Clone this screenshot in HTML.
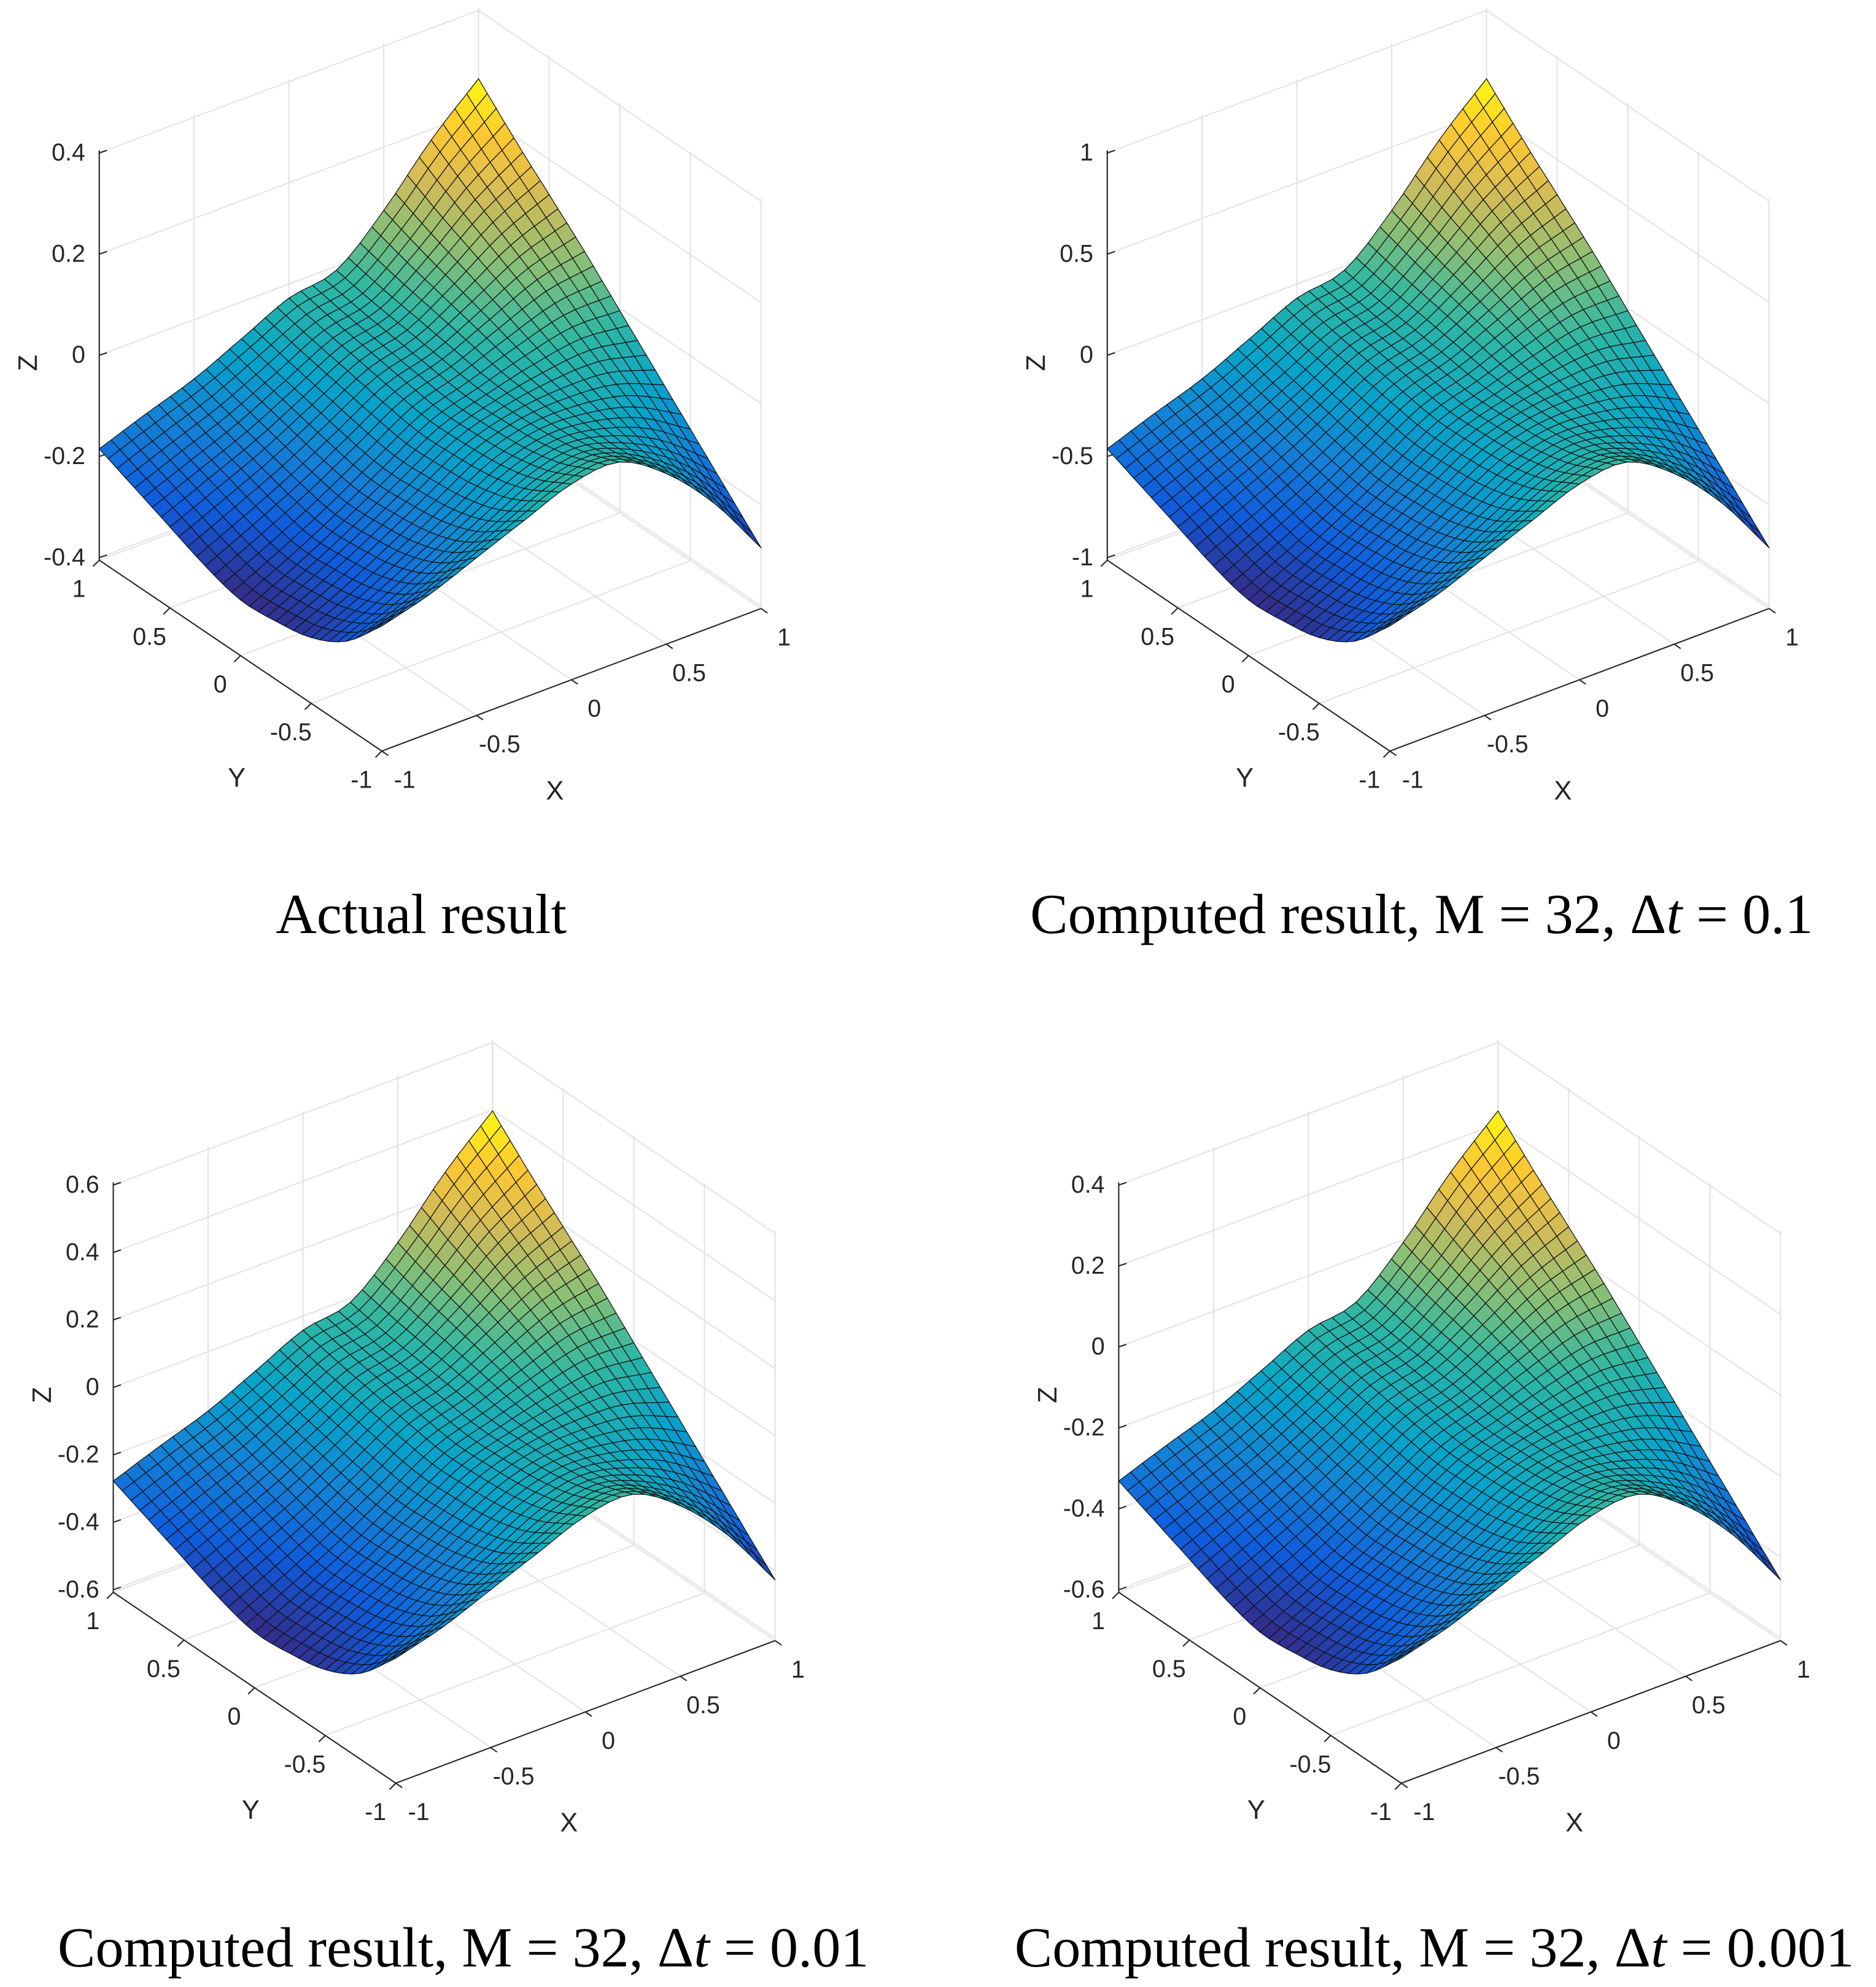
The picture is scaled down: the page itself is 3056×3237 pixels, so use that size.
<!DOCTYPE html>
<html><head><meta charset="utf-8">
<style>
html,body{margin:0;padding:0;background:#fff;}
svg{display:block;}
.tk{font-family:"Liberation Sans Narrow","Liberation Sans",sans-serif;font-size:19px;fill:#262626;}
.ax{font-family:"Liberation Sans Narrow","Liberation Sans",sans-serif;font-size:21px;fill:#262626;}
.cap{font-family:"Liberation Serif",serif;font-size:44.5px;fill:#000;}
</style></head>
<body>
<svg id="fig" width="3056" height="3237" viewBox="0 0 1474 1561" xmlns="http://www.w3.org/2000/svg">
<text class="cap" x="331" y="733" text-anchor="middle">Actual result</text>
<text class="cap" x="1117" y="733" text-anchor="middle">Computed result, M = 32, Δ<tspan font-style="italic">t</tspan> = 0.1</text>
<text class="cap" x="364" y="1545" text-anchor="middle">Computed result, M = 32, Δ<tspan font-style="italic">t</tspan> = 0.01</text>
<text class="cap" x="1127" y="1545" text-anchor="middle">Computed result, M = 32, Δ<tspan font-style="italic">t</tspan> = 0.001</text>
</svg>
<script>
// Edge profiles of the surface (z values at nodes -1,-0.75,...,1)
const edgeXm = [-0.153,-0.23,-0.27,-0.285,-0.29,-0.27,-0.24,-0.21,-0.18];   // x=-1, along y
const edgeXp = [-0.28,-0.21,-0.14,-0.07,0.0,0.07,0.135,0.2,0.27];             // x=1, along y
const edgeYm = [-0.153,-0.126,-0.088,-0.05,-0.013,-0.005,-0.063,-0.156,-0.28]; // y=-1, along x
const edgeYp = [-0.18,-0.145,-0.112,-0.068,-0.023,-0.003,0.08,0.184,0.27];    // y=1, along x
const xyTicks = [-1,-0.5,0,0.5,1];
const xyTickLabels = ["-1","-0.5","0","0.5","1"];
const zTicks1 = ["-0.4","-0.2","0","0.2","0.4"];
const zTicks2 = ["-1","-0.5","0","0.5","1"];
const zTicks3 = ["-0.6","-0.4","-0.2","0","0.2","0.4","0.6"];
const zTicks4 = ["-0.6","-0.4","-0.2","0","0.2","0.4"];
const N = 32;

const NS="http://www.w3.org/2000/svg";
const svg=document.getElementById('fig');
function mk(tag,attrs,parent){const e=document.createElementNS(NS,tag);for(const k in attrs)e.setAttribute(k,attrs[k]);(parent||svg).appendChild(e);return e;}
function interp(vals,t){
  const n=vals.length-1;
  let s=(t+1)/2*n; let i=Math.min(n-1,Math.max(0,Math.floor(s))); let f=s-i;
  const p1=vals[i],p2=vals[i+1];
  const p0=i>0?vals[i-1]:2*p1-p2, p3=i+2<=n?vals[i+2]:2*p2-p1;
  return 0.5*((2*p1)+(-p0+p2)*f+(2*p0-5*p1+4*p2-p3)*f*f+(-p0+3*p1-3*p2+p3)*f*f*f);
}
function zf(x,y){
  const u=(x+1)/2,v=(y+1)/2;
  const A=interp(edgeXm,y),B=interp(edgeXp,y),C=interp(edgeYm,x),D=interp(edgeYp,x);
  const c00=edgeXm[0],c10=edgeXp[0],c01=edgeXm[8],c11=edgeXp[8];
  return (1-u)*A+u*B+(1-v)*C+v*D-((1-u)*(1-v)*c00+u*(1-v)*c10+(1-u)*v*c01+u*v*c11);
}
const ZPX=397.5, ZMIN=-0.4;
function proj(ox,oy,x,y,z){const u=(x+1)/2,v=(y+1)/2;
  return [ox+300+u*298-v*222, oy+590-u*112-v*150-(z-ZMIN)*ZPX];}
const stops=[[0,[53,42,135]],[0.125,[15,92,221]],[0.25,[20,129,214]],[0.375,[6,164,202]],[0.5,[46,183,164]],[0.625,[135,191,119]],[0.75,[209,187,89]],[0.875,[254,200,50]],[1,[249,251,14]]];
function cmap(t){t=Math.max(0,Math.min(1,t));for(let i=0;i<stops.length-1;i++){if(t<=stops[i+1][0]){const f=(t-stops[i][0])/(stops[i+1][0]-stops[i][0]);const a=stops[i][1],b=stops[i+1][1];return 'rgb('+a.map((c,k)=>Math.round(c+(b[k]-c)*f)).join(',')+')';}}return 'rgb(249,251,14)';}

const Z=[];let zmn=1e9,zmx=-1e9;
for(let i=0;i<=N;i++){Z.push([]);for(let j=0;j<=N;j++){const x=-1+2*i/N,y=-1+2*j/N;const z=zf(x,y);Z[i].push(z);zmn=Math.min(zmn,z);zmx=Math.max(zmx,z);}}

function panel(idx,ox,oy,zl){
  const g=mk('g',{});
  
  
  const H=322, grid='#e3e3e3';
  const base=(x,y)=>proj(ox,oy,x,y,ZMIN);
  const zy=k=>438-(438-120)*k/(zl.length-1);
  xyTicks.forEach(t=>{
    let a=base(t,-1),b=base(t,1);mk('line',{x1:a[0],y1:a[1],x2:b[0],y2:b[1],stroke:grid,'stroke-width':1},g);
    a=base(-1,t);b=base(1,t);mk('line',{x1:a[0],y1:a[1],x2:b[0],y2:b[1],stroke:grid,'stroke-width':1},g);
  });
  xyTicks.forEach(t=>{
    let a=base(t,1);mk('line',{x1:a[0],y1:a[1],x2:a[0],y2:a[1]-H,stroke:grid,'stroke-width':1},g);
    a=base(1,t);mk('line',{x1:a[0],y1:a[1],x2:a[0],y2:a[1]-H,stroke:grid,'stroke-width':1},g);
  });
  zl.forEach((lab,k)=>{
    const h=440-zy(k);
    let a=base(-1,1),b=base(1,1),c=base(1,-1);
    mk('polyline',{points:`${a[0]},${a[1]-h} ${b[0]},${b[1]-h} ${c[0]},${c[1]-h}`,fill:'none',stroke:grid,'stroke-width':1},g);
  });
  const axc='#262626';
  let p=base(-1,1),q=base(-1,-1),r=base(1,-1);
  const ya=mk('line',{x1:p[0],y1:p[1],x2:q[0],y2:q[1],stroke:axc,'stroke-width':1},g);
  
  
  const xa=mk('line',{x1:q[0],y1:q[1],x2:r[0],y2:r[1],stroke:axc,'stroke-width':1},g);
  
  
  const za=mk('line',{x1:p[0],y1:p[1],x2:p[0],y2:p[1]-H,stroke:axc,'stroke-width':1},g);
  
  
  xyTicks.forEach((t,k)=>{
    let a=base(t,-1);mk('line',{x1:a[0],y1:a[1],x2:a[0]+5,y2:a[1]+3.5,stroke:axc,'stroke-width':1},g);
    const tx=mk('text',{x:a[0]+18,y:a[1]+29,'text-anchor':'middle',class:'tk'},g);tx.textContent=xyTickLabels[k];
    
    
    a=base(-1,t);mk('line',{x1:a[0],y1:a[1],x2:a[0]-5,y2:a[1]+5,stroke:axc,'stroke-width':1},g);
    const ty=mk('text',{x:a[0]-16,y:a[1]+29,'text-anchor':'middle',class:'tk'},g);ty.textContent=xyTickLabels[k];
    
    
  });
  zl.forEach((lab,k)=>{
    const y=oy+zy(k);
    mk('line',{x1:ox+78,y1:y,x2:ox+84,y2:y-2,stroke:axc,'stroke-width':1},g);
    const t=mk('text',{x:ox+67,y:y+6,'text-anchor':'end',class:'tk'},g);t.textContent=lab;
    
    
  });
  const lx=mk('text',{x:ox+436,y:oy+628,'text-anchor':'middle',class:'ax'},g);lx.textContent='X';
  
  
  const ly=mk('text',{x:ox+186,y:oy+618,'text-anchor':'middle',class:'ax'},g);ly.textContent='Y';
  
  
  const lz=mk('text',{x:0,y:0,'text-anchor':'middle',class:'ax',transform:`translate(${ox+29},${oy+285}) rotate(-90)`},g);lz.textContent='Z';
  
  
  const quads=[];
  for(let i=0;i<N;i++)for(let j=0;j<N;j++){
    const pts=[[i,j],[i+1,j],[i+1,j+1],[i,j+1]];
    const zc=(Z[i][j]+Z[i+1][j]+Z[i+1][j+1]+Z[i][j+1])/4;
    const u=(i+0.5)/N,v=(j+0.5)/N;
    quads.push({pts,zc,d:-(u*112+v*150)});
  }
  quads.sort((a,b)=>a.d-b.d);
  const sg=mk('g',{'stroke':'#111','stroke-width':0.6,'stroke-linejoin':'round'},g);
  
  
  quads.forEach(qd=>{
    const s=qd.pts.map(([i,j])=>{const pp=proj(ox,oy,-1+2*i/N,-1+2*j/N,Z[i][j]);return pp[0].toFixed(1)+','+pp[1].toFixed(1);}).join(' ');
    const el=mk('polygon',{points:s,fill:cmap((qd.zc-zmn)/(zmx-zmn))},sg);
    
    
  });
}
panel(1,0,0,zTicks1);
panel(2,792,0,zTicks2);
panel(3,11,811,zTicks3);
panel(4,801,811,zTicks4);
</script>
</body></html>
